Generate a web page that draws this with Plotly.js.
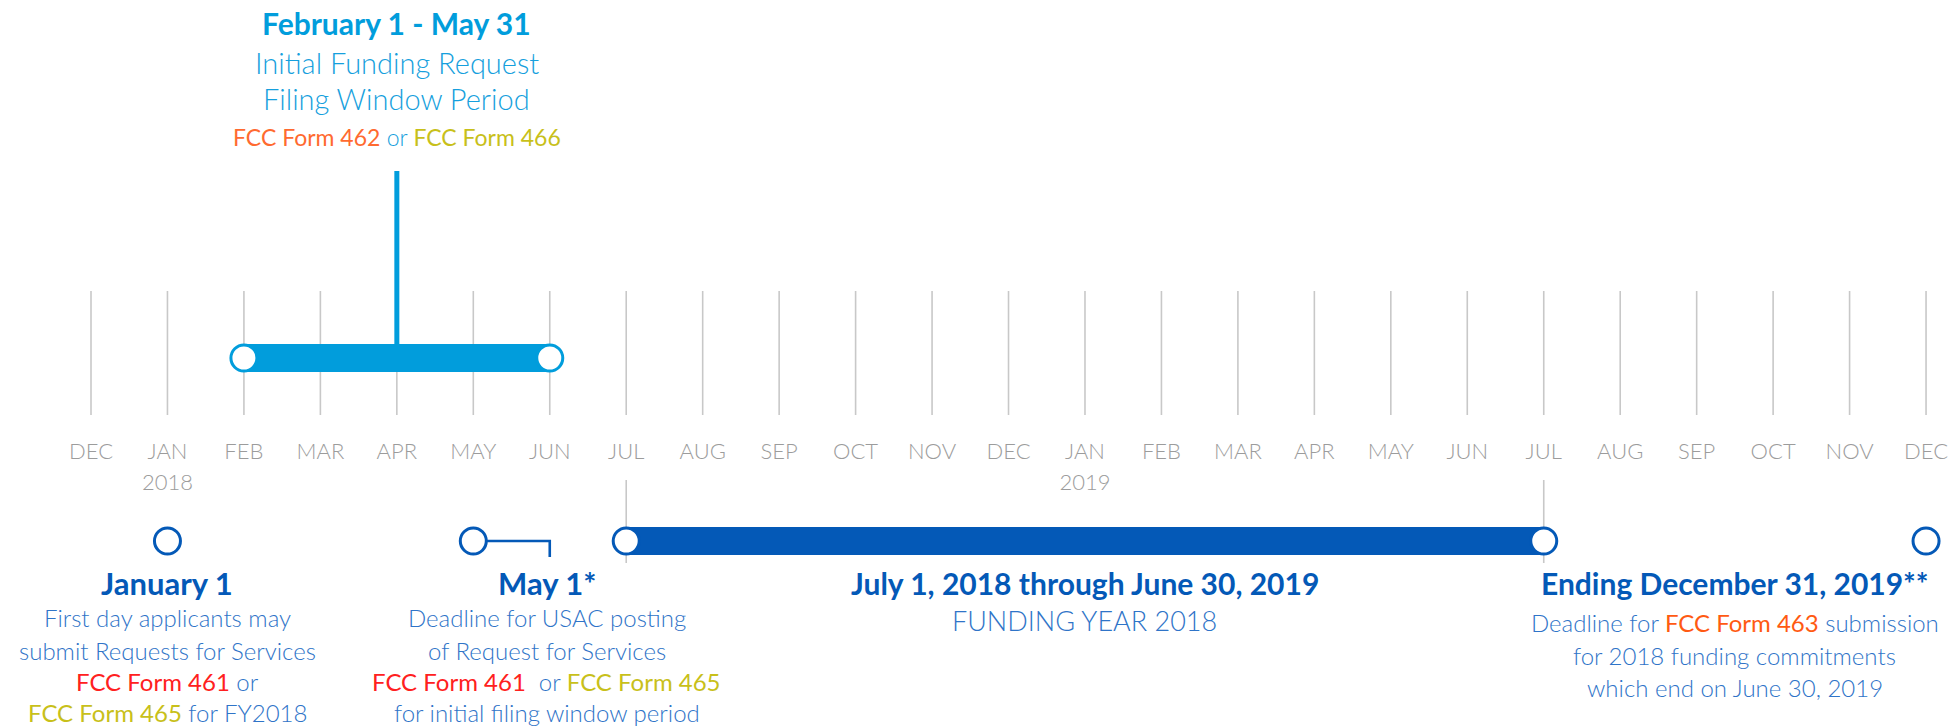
<!DOCTYPE html>
<html>
<head>
<meta charset="utf-8">
<script src="https://cdn.plot.ly/plotly-3.0.1.min.js"></script>
<style>html,body{margin:0;padding:0;background:#fff;}#chart{width:1952px;height:726px;}</style>
</head>
<body>
<div id="chart"></div>
<script>
// ---- data ----
const monthLabels = ['DEC','JAN','FEB','MAR','APR','MAY','JUN','JUL','AUG','SEP','OCT','NOV','DEC',
                     'JAN','FEB','MAR','APR','MAY','JUN','JUL','AUG','SEP','OCT','NOV','DEC'];
const monthYears  = [2017,2018,2018,2018,2018,2018,2018,2018,2018,2018,2018,2018,2018,
                     2019,2019,2019,2019,2019,2019,2019,2019,2019,2019,2019,2019];
const yearLabels = ['2018','2019'];
const yearStarts = ['2018-01','2019-01'];
const filingWindow = ['2018-02','2018-06'];     // Feb 1 - May 31
const filingMarker = ['2018-04'];               // stem of the filing window
const fundingYear = ['2018-07','2019-07'];      // Jul 1 2018 - Jun 30 2019
const milestones = ['2018-01','2018-05','2019-12']; // Jan 1, May 1*, Dec 31 2019
const mayBracketEnd = ['2018-06'];
const fundingTicks = ['2018-07','2019-07'];

// ---- helpers ----
const MONTHS = ['JAN','FEB','MAR','APR','MAY','JUN','JUL','AUG','SEP','OCT','NOV','DEC'];
function pos(ym){
  const [y,m] = ym.split('-').map(Number);
  for(let i=0;i<monthLabels.length;i++){
    if(monthYears[i]===y && MONTHS.indexOf(monthLabels[i])+1===m) return i;
  }
  return null;
}
const LIGHT = '#019ddc', DARK = '#0459b7', GRID = '#c8c8c8', TICK = '#9c9c9c';
const BODY_DARK = '#2f74c8', BODY_LIGHT = '#169fdd';
const ORANGE = '#ff6a30', OLIVE = '#c8c01a', RED = '#ff2020', ORANGE2 = '#ff5a12';
const FONT = 'Lato, "Open Sans", sans-serif';

// y levels (pixels, axis reversed)
const GRID_TOP = 291, GRID_BOT = 415, TOP_BAR = 358, BOT_BAR = 541, LABEL_Y = 453, YEAR_Y = 484;

const traces = [];
// grid lines
{
  const gx = [], gy = [];
  monthLabels.forEach((m,i)=>{ gx.push(i,i,null); gy.push(GRID_TOP,GRID_BOT,null); });
  traces.push({x:gx,y:gy,mode:'lines',line:{color:GRID,width:1.6},hoverinfo:'skip'});
}
// ticks below labels at funding year bounds
{
  const gx=[],gy=[];
  fundingTicks.forEach(d=>{const p=pos(d); gx.push(p,p,null); gy.push(480,563,null);});
  traces.push({x:gx,y:gy,mode:'lines',line:{color:GRID,width:1.6},hoverinfo:'skip'});
}
// month labels
traces.push({x:monthLabels.map((m,i)=>i),y:monthLabels.map(()=>LABEL_Y),text:monthLabels,mode:'text',
  textfont:{family:FONT,size:22,color:TICK,weight:300},hoverinfo:'skip'});
traces.push({x:yearStarts.map(pos),y:yearLabels.map(()=>YEAR_Y),text:yearLabels,mode:'text',
  textfont:{family:FONT,size:22,color:TICK,weight:300},hoverinfo:'skip'});
// filing window stem
traces.push({x:[pos(filingMarker[0]),pos(filingMarker[0])],y:[171,TOP_BAR],mode:'lines',line:{color:LIGHT,width:5},hoverinfo:'skip'});
// filing window bar
traces.push({x:filingWindow.map(pos),y:[TOP_BAR,TOP_BAR],mode:'lines+markers',line:{color:LIGHT,width:28},
  marker:{size:26,color:'#fff',line:{color:LIGHT,width:3}},hoverinfo:'skip'});
// May bracket
traces.push({x:[pos(milestones[1]),pos(mayBracketEnd[0]),pos(mayBracketEnd[0])],y:[BOT_BAR,BOT_BAR,557],mode:'lines',
  line:{color:DARK,width:2.6},hoverinfo:'skip'});
// funding year bar
traces.push({x:fundingYear.map(pos),y:[BOT_BAR,BOT_BAR],mode:'lines+markers',line:{color:DARK,width:28},
  marker:{size:26,color:'#fff',line:{color:DARK,width:3}},hoverinfo:'skip'});
// milestone circles
traces.push({x:milestones.map(pos),y:milestones.map(()=>BOT_BAR),mode:'markers',
  marker:{size:26,color:'#fff',line:{color:DARK,width:3}},hoverinfo:'skip'});

function c(t,col){return '<span style="color:'+col+';font-weight:400">'+t+'</span>';}
const ann = [];
function add(x,y,text,size,color,bold){
  ann.push({x:x,y:y,xref:'x',yref:'y',text:text,showarrow:false,xanchor:'center',yanchor:'middle',
    font:{family:FONT,size:size,color:color,weight:bold?700:300}});
}
const HB = 30, BT = 24;
// top block
const apr = pos(filingMarker[0]);
add(apr,23,'<b>February 1 - May 31</b>',HB,LIGHT,true);
add(apr,62,'Initial Funding Request',29,BODY_LIGHT);
add(apr,98,'Filing Window Period',29,BODY_LIGHT);
add(apr,137,c('FCC Form 462',ORANGE)+' or '+c('FCC Form 466',OLIVE),23,BODY_LIGHT);
// Jan 1 block
const jan = pos(milestones[0]);
add(jan,583,'<b>January 1</b>',31,DARK,true);
add(jan,617,'First day applicants may',BT,BODY_DARK);
add(jan,650,'submit Requests for Services',BT,BODY_DARK);
add(jan,681,c('FCC Form 461',RED)+' or',BT,BODY_DARK);
add(jan,712,c('FCC Form 465',OLIVE)+' for FY2018',BT,BODY_DARK);
// May 1 block
const mayC = pos(milestones[1]) + 0.96;
add(mayC,583,'<b>May 1*</b>',31,DARK,true);
add(mayC,617,'Deadline for USAC posting',BT,BODY_DARK);
add(mayC,650,'of Request for Services',BT,BODY_DARK);
add(mayC,681,c('FCC Form 461',RED)+'  or '+c('FCC Form 465',OLIVE),BT,BODY_DARK);
add(mayC,712,'for initial filing window period',BT,BODY_DARK);
// Funding year block
const fyC = (pos(fundingYear[0])+pos(fundingYear[1]))/2;
add(fyC,583,'<b>July 1, 2018 through June 30, 2019</b>',HB,DARK,true);
add(fyC,620,'FUNDING YEAR 2018',27,BODY_DARK);
// Ending block
const endC = pos(milestones[2]) - 2.5;
add(endC,583,'<b>Ending December 31, 2019**</b>',HB,DARK,true);
add(endC,622,'Deadline for '+c('FCC Form 463',ORANGE2)+' submission',BT,BODY_DARK);
add(endC,655,'for 2018 funding commitments',BT,BODY_DARK);
add(endC,687,'which end on June 30, 2019',BT,BODY_DARK);

const PX = 76.46, X0 = 91;
const layout = {
  width:1952,height:726,margin:{l:0,r:0,t:0,b:0},
  paper_bgcolor:'#fff',plot_bgcolor:'#fff',showlegend:false,
  xaxis:{range:[-X0/PX, 24+(1952-X0-24*PX)/PX],visible:false,fixedrange:true},
  yaxis:{range:[726,0],visible:false,fixedrange:true},
  annotations:ann
};
Plotly.newPlot('chart',traces,layout,{displayModeBar:false,staticPlot:true});
</script>
</body>
</html>
